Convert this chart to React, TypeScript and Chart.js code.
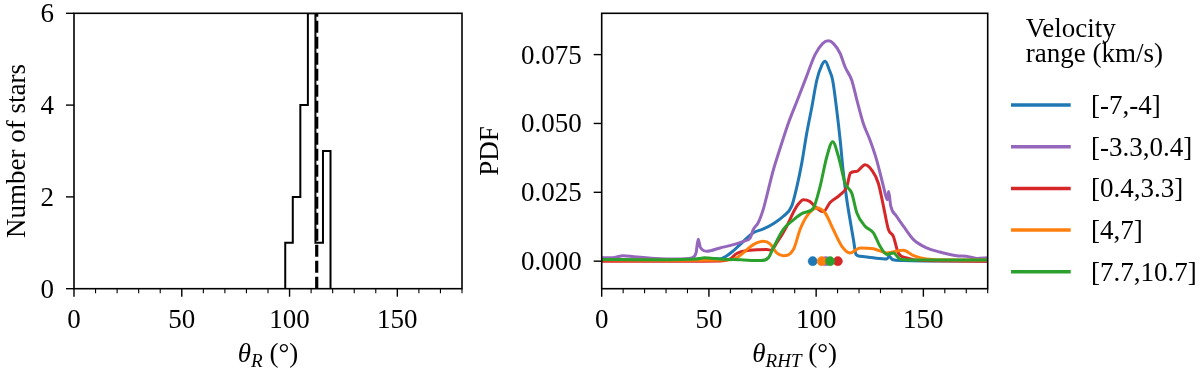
import React, { useEffect, useRef } from 'react';
import { Chart, registerables } from 'chart.js';
Chart.register(...registerables);

const FONT = '"Liberation Serif", "Times New Roman", serif';
const FS = 27;

// ---- Left panel: histogram of theta_R ----
const binEdges = [98, 101.5, 105, 108.5, 112, 115.5, 119];
const binCounts = [1, 2, 4, 6, 1, 3];
const meanThetaR = 112.6;

// ---- Right panel: PDF curves ----
const seriesLabels = ['[-7,-4]', '[-3.3,0.4]', '[0.4,3.3]', '[4,7]', '[7.7,10.7]'];
const seriesColors = ['#1f77b4', '#9467bd', '#d62728', '#ff7f0e', '#2ca02c'];

const blueX = [0, 20, 40, 44, 47, 52, 55, 58, 61, 64.5, 70.7, 75.4, 80, 84.7, 88.6, 91, 93.3, 95.6, 98, 100.3, 102.6, 104.2, 106.2, 107.7, 109.6, 111.2, 112.7, 114.3, 115.8, 117.4, 118.6, 120.5, 126.7, 133, 134.1, 135.5, 140, 150, 180];
const blueY = [0.0003, 0.0003, 0.0003, 0.0006, 0.001, 0.0009, 0.0008, 0.0018, 0.0035, 0.006, 0.0103, 0.0117, 0.0136, 0.0163, 0.02, 0.027, 0.0356, 0.0464, 0.056, 0.0657, 0.0711, 0.0726, 0.0693, 0.0657, 0.0549, 0.044, 0.032, 0.0223, 0.015, 0.0078, 0.0024, 0.0018, 0.0012, 0.0008, 0.0018, 0.0006, 0.0002, 0.0001, 0.0001];

const purpleX = [0, 5, 10, 15, 25, 35, 42, 44, 45, 46, 49, 55.2, 61.4, 66, 69.2, 70.7, 73, 75.4, 77.4, 80, 83.2, 87, 91, 95, 99.5, 103, 105.7, 108.1, 111.2, 113.5, 116.6, 119, 122, 125.1, 128.2, 131.4, 133.2, 133.8, 134.8, 137.5, 140.7, 145.4, 151.5, 157.8, 165.5, 170, 175, 180];
const purpleY = [0.0012, 0.0012, 0.002, 0.0016, 0.001, 0.0008, 0.0012, 0.003, 0.008, 0.005, 0.0036, 0.0048, 0.006, 0.0072, 0.0084, 0.0115, 0.014, 0.019, 0.025, 0.033, 0.041, 0.05, 0.058, 0.066, 0.075, 0.079, 0.08, 0.079, 0.0754, 0.0705, 0.0657, 0.0585, 0.05, 0.044, 0.0368, 0.0271, 0.0223, 0.0253, 0.02, 0.0163, 0.0127, 0.0078, 0.0048, 0.0033, 0.002, 0.0018, 0.001, 0.0012];

const redX = [0, 30, 55, 60, 63, 69, 77, 79, 81.6, 86.3, 90, 92, 94, 97, 100.3, 103.4, 106.5, 111, 114.3, 116, 119, 122.8, 126, 129, 131.4, 133.7, 136, 138.3, 142.2, 150, 180];
const redY = [0, 0, 0.0001, 0.0008, 0.0028, 0.004, 0.0042, 0.004, 0.0066, 0.0127, 0.0187, 0.021, 0.0223, 0.0217, 0.0193, 0.018, 0.0213, 0.024, 0.027, 0.032, 0.0326, 0.035, 0.033, 0.0283, 0.0199, 0.0115, 0.009, 0.003, 0.0012, 0.0002, 0];

const orangeX = [0, 30, 60, 63, 66, 70.7, 75.4, 78.5, 81.6, 84.7, 89.4, 92.5, 95.6, 100.3, 104.2, 108, 112, 115.8, 120.5, 126.7, 133, 140.7, 145.4, 151.5, 160, 180];
const orangeY = [0.0005, 0.0003, 0.0005, 0.0012, 0.003, 0.006, 0.0072, 0.0063, 0.003, 0.002, 0.0042, 0.0115, 0.0163, 0.0193, 0.0175, 0.0115, 0.0054, 0.003, 0.0048, 0.0045, 0.003, 0.004, 0.002, 0.0008, 0.0005, 0.0004];

const greenX = [0, 20, 44, 48, 55, 65, 74, 77.7, 80, 84.7, 89.4, 94, 98.7, 101.8, 105, 107.7, 110.4, 113.5, 116.6, 119, 122.8, 126.7, 129.8, 133, 136, 139, 145, 180];
const greenY = [0.0006, 0.0005, 0.0008, 0.0012, 0.0008, 0.0005, 0.0002, 0.0012, 0.0048, 0.0115, 0.015, 0.0175, 0.0193, 0.027, 0.038, 0.0434, 0.038, 0.0283, 0.0247, 0.0175, 0.0127, 0.0103, 0.0054, 0.0024, 0.003, 0.0008, 0.0004, 0.0004];

// peak markers at PDF = 0 (blue, purple, red, orange, green)
const markerTheta = [98.4, 104.5, 110.1, 102.6, 106.5];
const markerColors = ['#1f77b4', '#9467bd', '#d62728', '#ff7f0e', '#2ca02c'];

// ticks
const xMajorTicks = [0, 50, 100, 150];
const xMinorTicks = [10, 20, 30, 40, 60, 70, 80, 90, 110, 120, 130, 140, 160, 170, 180];
const leftYTicks = [0, 2, 4, 6];
const rightYTicks = [0, 0.025, 0.05, 0.075];

type TitlePart = { t: string; italic?: boolean; sub?: boolean };

function axesPlugin(opts: {
  yTicks: number[];
  yFmt: (v: number) => string;
  xTitle: TitlePart[];
  yTitle: string;
  yTitleX: number;
}) {
  return {
    id: 'mplAxes',
    afterDatasetsDraw(chart: any) {
      const { ctx, chartArea } = chart;
      const { left, right, top, bottom } = chartArea;
      const xs = chart.scales.x;
      const ys = chart.scales.y;
      ctx.save();
      ctx.strokeStyle = '#000';
      ctx.fillStyle = '#000';
      ctx.lineWidth = 1.6;
      ctx.strokeRect(left, top, right - left, bottom - top);
      ctx.lineWidth = 1.4;
      ctx.font = `${FS}px ${FONT}`;
      ctx.textAlign = 'center';
      ctx.textBaseline = 'alphabetic';
      for (const v of xMajorTicks) {
        const px = xs.getPixelForValue(v);
        ctx.beginPath();
        ctx.moveTo(px, bottom);
        ctx.lineTo(px, bottom + 8);
        ctx.stroke();
        ctx.fillText(String(v), px, bottom + 39);
      }
      ctx.lineWidth = 1.1;
      for (const v of xMinorTicks) {
        const px = xs.getPixelForValue(v);
        ctx.beginPath();
        ctx.moveTo(px, bottom);
        ctx.lineTo(px, bottom + 4.5);
        ctx.stroke();
      }
      ctx.lineWidth = 1.4;
      ctx.textAlign = 'right';
      for (const v of opts.yTicks) {
        const py = ys.getPixelForValue(v);
        ctx.beginPath();
        ctx.moveTo(left - 8, py);
        ctx.lineTo(left, py);
        ctx.stroke();
        ctx.fillText(opts.yFmt(v), left - 20, py + 9);
      }
      const parts = opts.xTitle;
      const fontFor = (p: TitlePart) =>
        `${p.italic ? 'italic ' : ''}${p.sub ? Math.round(FS * 0.7) : FS}px ${FONT}`;
      let total = 0;
      for (const p of parts) {
        ctx.font = fontFor(p);
        total += ctx.measureText(p.t).width;
      }
      let cx = (left + right) / 2 - total / 2;
      ctx.textAlign = 'left';
      const baseY = 362;
      for (const p of parts) {
        ctx.font = fontFor(p);
        ctx.fillText(p.t, cx, p.sub ? baseY + 5 : baseY);
        cx += ctx.measureText(p.t).width;
      }
      ctx.font = `${FS}px ${FONT}`;
      ctx.textAlign = 'center';
      ctx.translate(opts.yTitleX, (top + bottom) / 2);
      ctx.rotate(-Math.PI / 2);
      ctx.fillText(opts.yTitle, 0, 0);
      ctx.restore();
    },
  };
}

const legendPlugin = {
  id: 'customLegend',
  afterDraw(chart: any) {
    const { ctx } = chart;
    ctx.save();
    ctx.fillStyle = '#000';
    ctx.font = `${FS}px ${FONT}`;
    ctx.textAlign = 'left';
    ctx.textBaseline = 'alphabetic';
    ctx.fillText('Velocity', 545.7, 36.7);
    ctx.fillText('range (km/s)', 545.7, 61.7);
    seriesLabels.forEach((lab, i) => {
      const y = 105 + i * 41.7;
      ctx.strokeStyle = seriesColors[i];
      ctx.lineWidth = 3.5;
      ctx.beginPath();
      ctx.moveTo(531, y);
      ctx.lineTo(590.7, y);
      ctx.stroke();
      ctx.fillText(lab, 611, y + 9);
    });
    ctx.restore();
  },
};

function hiddenScale(min: number, max: number, fit: (s: any) => void) {
  return {
    type: 'linear' as const,
    min,
    max,
    display: true,
    grid: { display: false },
    border: { display: false },
    ticks: { display: false },
    afterFit: fit,
  };
}

export default function App() {
  const leftRef = useRef<HTMLCanvasElement>(null);
  const rightRef = useRef<HTMLCanvasElement>(null);

  useEffect(() => {
    const histPts: { x: number; y: number }[] = [{ x: binEdges[0], y: 0 }];
    binCounts.forEach((c, i) => histPts.push({ x: binEdges[i], y: c }));
    histPts.push({ x: binEdges[binEdges.length - 1], y: binCounts[binCounts.length - 1] });
    histPts.push({ x: binEdges[binEdges.length - 1], y: 0 });

    const left = new Chart(leftRef.current!, {
      type: 'line',
      data: {
        datasets: [
          {
            data: histPts,
            stepped: 'before',
            borderColor: '#000',
            borderWidth: 2,
            pointRadius: 0,
            fill: false,
          } as any,
          {
            data: [
              { x: meanThetaR, y: 0 },
              { x: meanThetaR, y: 6 },
            ],
            borderColor: '#000',
            borderWidth: 3.2,
            borderDash: [12, 4],
            pointRadius: 0,
            fill: false,
          },
        ],
      },
      options: {
        responsive: false,
        animation: false,
        layout: { padding: { top: 13.3, right: 18, left: 0, bottom: 0 } },
        plugins: { legend: { display: false }, tooltip: { enabled: false } },
        scales: {
          x: hiddenScale(0, 180, (s: any) => { s.height = 83.3; }),
          y: hiddenScale(0, 6, (s: any) => { s.width = 74; }),
        } as any,
      },
      plugins: [
        axesPlugin({
          yTicks: leftYTicks,
          yFmt: (v) => String(v),
          xTitle: [{ t: 'θ', italic: true }, { t: 'R', italic: true, sub: true }, { t: ' (°)' }],
          yTitle: 'Number of stars',
          yTitleX: 25,
        }),
      ],
    });

    const xsArr = [blueX, purpleX, redX, orangeX, greenX];
    const ysArr = [blueY, purpleY, redY, orangeY, greenY];
    const lineSets: any[] = xsArr.map((xa, i) => ({
      label: seriesLabels[i],
      data: xa.map((x, j) => ({ x, y: ysArr[i][j] })),
      borderColor: seriesColors[i],
      borderWidth: 3,
      pointRadius: 0,
      fill: false,
      cubicInterpolationMode: 'monotone',
      order: 5 - i,
    }));
    lineSets.push({
      label: 'peaks',
      data: markerTheta.map((x) => ({ x, y: 0 })),
      showLine: false,
      pointRadius: 4.6,
      pointBorderWidth: 0.5,
      pointBackgroundColor: markerColors,
      pointBorderColor: markerColors,
      order: 0,
    });

    const right = new Chart(rightRef.current!, {
      type: 'line',
      data: { datasets: lineSets },
      options: {
        responsive: false,
        animation: false,
        layout: { padding: { top: 13.3, right: 212.3, left: 0, bottom: 0 } },
        plugins: { legend: { display: false }, tooltip: { enabled: false } },
        scales: {
          x: hiddenScale(0, 180, (s: any) => { s.height = 83.3; }),
          y: hiddenScale(-0.01, 0.09, (s: any) => { s.width = 121.7; }),
        } as any,
      },
      plugins: [
        axesPlugin({
          yTicks: rightYTicks,
          yFmt: (v) => v.toFixed(3),
          xTitle: [{ t: 'θ', italic: true }, { t: 'RHT', italic: true, sub: true }, { t: ' (°)' }],
          yTitle: 'PDF',
          yTitleX: 18,
        }),
        legendPlugin,
      ],
    });

    return () => {
      left.destroy();
      right.destroy();
    };
  }, []);

  return (
    <div style={{ position: 'absolute', left: 0, top: 0, width: 1200, height: 372, background: '#fff' }}>
      <canvas ref={leftRef} width={480} height={372} style={{ position: 'absolute', left: 0, top: 0, width: 480, height: 372 }} />
      <canvas ref={rightRef} width={720} height={372} style={{ position: 'absolute', left: 480, top: 0, width: 720, height: 372 }} />
    </div>
  );
}
